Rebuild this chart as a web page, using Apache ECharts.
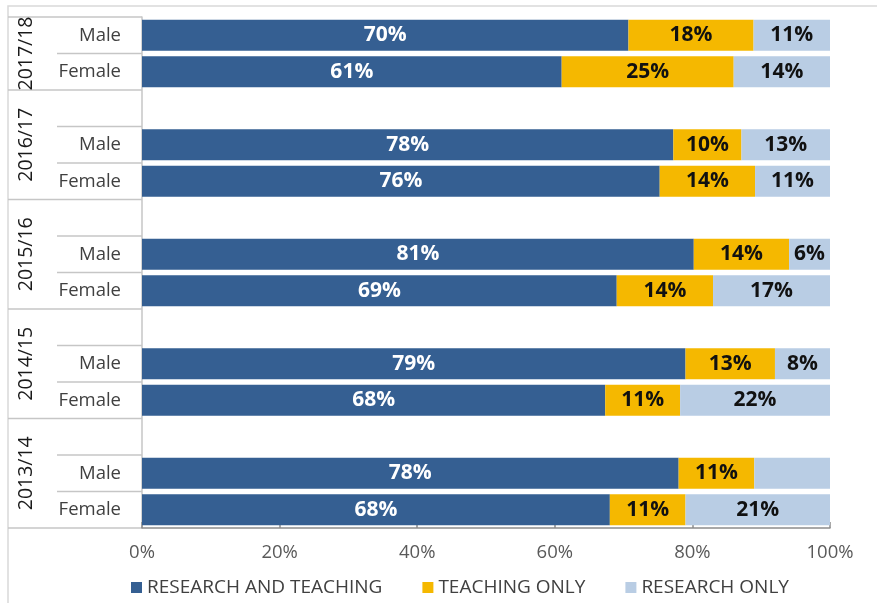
<!DOCTYPE html>
<html>
<head>
<meta charset="utf-8">
<script src="https://cdn.jsdelivr.net/npm/echarts@6/dist/echarts.min.js"></script>
<style>
  html, body { margin: 0; padding: 0; background: #fff; }
  #main { width: 877px; height: 603px; }
</style>
</head>
<body>
<div id="main"></div>
<script>
// years top to bottom, each with a Male and a Female row
const years = ['2017/18', '2016/17', '2015/16', '2014/15', '2013/14'];
const sexes = ['Male', 'Female'];
// values per row: 2017/18 M, F, 2016/17 M, F, ... 2013/14 M, F
const researchAndTeaching = [70, 61, 78, 76, 81, 69, 79, 68, 78, 68];
const teachingOnly = [18, 25, 10, 14, 14, 14, 13, 11, 11, 11];
const researchOnly = [11, 14, 13, 11, 6, 17, 8, 22, 11, 21];
// the 2013/14 Male research-only label is not printed in the original
const researchOnlyLabelShown = [true, true, true, true, true, true, true, true, false, true];
const tickLabels = ['0%', '20%', '40%', '60%', '80%', '100%'];

const FONT = '"Open Sans", sans-serif';

// categories: a blank spacer row before every year except the first
const categories = [];
const rowOfCat = [];
const groups = [];
let row = 0;
years.forEach((y, g) => {
    if (g > 0) { categories.push(''); rowOfCat.push(-1); }
    const start = categories.length - (g > 0 ? 1 : 0);
    sexes.forEach(s => { categories.push(s); rowOfCat.push(row); row++; });
    groups.push({ year: y, start: start, end: categories.length - 1 });
});

// 100% stacked: every row is scaled to its own total, labels keep the printed value
function buildData(values, shown) {
    return rowOfCat.map(r => {
        if (r < 0) return '-';
        const total = researchAndTeaching[r] + teachingOnly[r] + researchOnly[r];
        const item = { value: values[r] / total * 100, raw: values[r] };
        if (shown && !shown[r]) item.label = { show: false };
        return item;
    });
}

function seriesOf(name, values, color, labelColor, shown) {
    return {
        name: name,
        type: 'bar',
        stack: 'total',
        barWidth: '85%',
        itemStyle: { color: color },
        label: {
            show: true,
            position: 'inside',
            color: labelColor,
            fontFamily: FONT,
            fontWeight: 'bold',
            fontSize: 21,
            formatter: p => p.data.raw + '%'
        },
        emphasis: { disabled: true },
        data: buildData(values, shown)
    };
}

const chart = echarts.init(document.getElementById('main'), null, { renderer: 'canvas' });

const option = {
    animation: false,
    grid: { left: 142, right: 47, top: 17, bottom: 75, containLabel: false },
    legend: {
        left: 126,
        top: 573,
        itemWidth: 11,
        itemHeight: 11,
        itemGap: 40,
        icon: 'rect',
        textStyle: { fontFamily: FONT, fontSize: 19, color: '#404040' },
        data: ['RESEARCH AND TEACHING', 'TEACHING ONLY', 'RESEARCH ONLY']
    },
    xAxis: {
        type: 'value',
        min: 0,
        max: 100,
        interval: 20,
        splitLine: { show: false },
        axisLine: { show: true, lineStyle: { color: '#8c8c8c', width: 1.5 } },
        axisTick: { show: true, inside: true, length: 6, lineStyle: { color: '#8c8c8c', width: 1.5 } },
        axisLabel: {
            margin: 15,
            fontFamily: FONT,
            fontSize: 18.5,
            color: '#595959',
            formatter: (v) => tickLabels[Math.round(v / 20)]
        }
    },
    yAxis: {
        type: 'category',
        inverse: true,
        data: categories,
        axisLine: { show: true, lineStyle: { color: '#c6c6c6', width: 1.5 } },
        axisTick: { show: false },
        axisLabel: { margin: 21, fontFamily: FONT, fontSize: 18.5, color: '#404040' }
    },
    series: [
        seriesOf('RESEARCH AND TEACHING', researchAndTeaching, '#355F92', '#ffffff'),
        seriesOf('TEACHING ONLY', teachingOnly, '#F5B800', '#111111'),
        seriesOf('RESEARCH ONLY', researchOnly, '#B9CDE4', '#111111', researchOnlyLabelShown)
    ]
};

chart.setOption(option);

// table lines and year labels on the left, placed from the axis scale
const axisX = chart.convertToPixel({ xAxisIndex: 0 }, 0);
const c0 = chart.convertToPixel({ yAxisIndex: 0 }, 0);
const c1 = chart.convertToPixel({ yAxisIndex: 0 }, 1);
const slot = c1 - c0;
const topOf = i => chart.convertToPixel({ yAxisIndex: 0 }, i) - slot / 2;
const bottomOf = i => chart.convertToPixel({ yAxisIndex: 0 }, i) + slot / 2;
const lineStyle = { stroke: '#c6c6c6', lineWidth: 1.5 };
const outerX = 8;
const innerX = 57;

const graphics = [{
    type: 'rect',
    silent: true,
    shape: { x: outerX, y: 6, width: 1000, height: 1000 },
    style: { fill: 'none', stroke: '#d9d9d9', lineWidth: 1.5 }
}, {
    type: 'line',
    silent: true,
    shape: { x1: outerX, y1: topOf(0), x2: axisX, y2: topOf(0) },
    style: lineStyle
}];

groups.forEach(g => {
    const yb = bottomOf(g.end);
    graphics.push({
        type: 'line', silent: true,
        shape: { x1: outerX, y1: yb, x2: axisX, y2: yb },
        style: lineStyle
    });
    for (let i = g.start; i < g.end; i++) {
        const y = bottomOf(i);
        graphics.push({
            type: 'line', silent: true,
            shape: { x1: innerX, y1: y, x2: axisX, y2: y },
            style: lineStyle
        });
    }
    graphics.push({
        type: 'text',
        silent: true,
        x: 26,
        y: (topOf(g.start) + bottomOf(g.end)) / 2,
        rotation: Math.PI / 2,
        style: {
            text: g.year,
            fontFamily: FONT,
            fontSize: 19.5,
            fill: '#1a1a1a',
            align: 'center',
            verticalAlign: 'middle'
        }
    });
});

chart.setOption({ graphic: graphics });
</script>
</body>
</html>
